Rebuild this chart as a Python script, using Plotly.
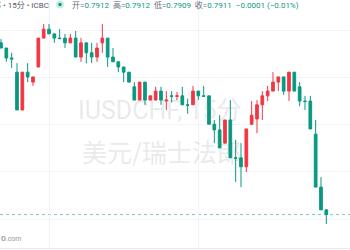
import plotly.graph_objects as go

# ---- data (USD/CHF, 15 min candles) ----
idx = list(range(62))
opens = [0.79473, 0.79462, 0.79441, 0.79411, 0.79331, 0.79411, 0.79390, 0.79422, 0.79483, 0.79502,
         0.79492, 0.79483, 0.79483, 0.79473, 0.79483, 0.79443, 0.79473, 0.79452, 0.79443, 0.79473,
         0.79483, 0.79443, 0.79433, 0.79422, 0.79411, 0.79380, 0.79352, 0.79390, 0.79352, 0.79352,
         0.79371, 0.79350, 0.79361, 0.79360, 0.79361, 0.79342, 0.79342, 0.79371, 0.79361, 0.79361,
         0.79301, 0.79289, 0.79261, 0.79310, 0.79230, 0.79230, 0.79211, 0.79301, 0.79312, 0.79342,
         0.79361, 0.79371, 0.79390, 0.79401, 0.79371, 0.79411, 0.79380, 0.79350, 0.79350, 0.79280,
         0.79168, 0.79120]
highs = [0.79481, 0.79462, 0.79452, 0.79430, 0.79411, 0.79430, 0.79401, 0.79483, 0.79513, 0.79513,
         0.79492, 0.79502, 0.79492, 0.79492, 0.79498, 0.79483, 0.79473, 0.79473, 0.79473, 0.79513,
         0.79483, 0.79462, 0.79433, 0.79422, 0.79411, 0.79390, 0.79390, 0.79390, 0.79361, 0.79380,
         0.79380, 0.79371, 0.79371, 0.79369, 0.79380, 0.79355, 0.79382, 0.79371, 0.79382, 0.79361,
         0.79310, 0.79320, 0.79310, 0.79352, 0.79268, 0.79261, 0.79291, 0.79350, 0.79352, 0.79371,
         0.79382, 0.79411, 0.79401, 0.79401, 0.79411, 0.79411, 0.79390, 0.79361, 0.79361, 0.79310,
         0.79189, 0.79120]
lows = [0.79462, 0.79433, 0.79420, 0.79331, 0.79331, 0.79390, 0.79382, 0.79422, 0.79483, 0.79492,
        0.79473, 0.79481, 0.79462, 0.79473, 0.79443, 0.79433, 0.79430, 0.79430, 0.79433, 0.79452,
        0.79422, 0.79433, 0.79411, 0.79390, 0.79390, 0.79352, 0.79352, 0.79342, 0.79352, 0.79352,
        0.79342, 0.79331, 0.79347, 0.79352, 0.79342, 0.79323, 0.79342, 0.79352, 0.79359, 0.79301,
        0.79261, 0.79251, 0.79261, 0.79230, 0.79179, 0.79168, 0.79200, 0.79299, 0.79282, 0.79310,
        0.79350, 0.79371, 0.79371, 0.79363, 0.79350, 0.79371, 0.79339, 0.79331, 0.79291, 0.79168,
        0.79120, 0.79090]
closes = [0.79462, 0.79441, 0.79439, 0.79331, 0.79411, 0.79401, 0.79401, 0.79483, 0.79502, 0.79492,
          0.79483, 0.79482, 0.79473, 0.79483, 0.79443, 0.79473, 0.79452, 0.79443, 0.79462, 0.79483,
          0.79443, 0.79433, 0.79422, 0.79411, 0.79390, 0.79352, 0.79390, 0.79352, 0.79361, 0.79371,
          0.79352, 0.79352, 0.79360, 0.79361, 0.79342, 0.79341, 0.79371, 0.79361, 0.79360, 0.79301,
          0.79289, 0.79251, 0.79310, 0.79230, 0.79229, 0.79211, 0.79291, 0.79320, 0.79342, 0.79361,
          0.79371, 0.79390, 0.79401, 0.79371, 0.79411, 0.79371, 0.79350, 0.79349, 0.79291, 0.79168,
          0.79120, 0.79110]
last_price = 0.7911
price_grid = [0.7910, 0.7920, 0.7930, 0.7940, 0.7950]
time_grid = [9, 37]

UP = "#f23645"
DOWN = "#089981"

W, H = 350, 250
PB = 248  # plot-area height in px


def px(x):
    return x / W


def py(y):
    return (PB - y) / PB


fig = go.Figure(go.Candlestick(
    x=idx, open=opens, high=highs, low=lows, close=closes,
    increasing=dict(line=dict(color=UP, width=1), fillcolor=UP),
    decreasing=dict(line=dict(color=DOWN, width=1), fillcolor=DOWN),
    whiskerwidth=0, hoverinfo="skip",
))

fig.update_layout(
    width=W, height=H,
    margin=dict(l=0, r=0, t=0, b=H - PB),
    paper_bgcolor="white", plot_bgcolor="white",
    showlegend=False, boxgap=0.28,
    xaxis=dict(range=[-0.1875, 65.44], tickvals=time_grid, showticklabels=False,
               gridcolor="#f0f3fa", zeroline=False, showline=True, linecolor="#e8eaf0",
               rangeslider=dict(visible=False), fixedrange=True),
    yaxis=dict(range=[0.790393, 0.795636], tickvals=price_grid, showticklabels=False,
               gridcolor="#f0f3fa", zeroline=False, fixedrange=True),
    font=dict(family="Roboto, Noto Sans CJK SC, sans-serif"),
)

# last price dotted line
fig.add_shape(type="line", xref="paper", x0=0, x1=1, yref="y", y0=last_price, y1=last_price,
              line=dict(color="rgba(8,153,129,0.55)", width=1, dash="dot"), layer="below")

# watermark
wm = "rgba(120,123,134,0.18)"
fig.add_annotation(text="IUSDCHF, 15分", xref="paper", yref="paper", x=px(160), y=py(110),
                   xanchor="center", yanchor="middle", showarrow=False,
                   font=dict(size=25, color=wm, family="Roboto, Noto Sans CJK SC"))
fig.add_annotation(text="美元/瑞士法郎", xref="paper", yref="paper", x=px(162), y=py(151),
                   xanchor="center", yanchor="middle", showarrow=False,
                   font=dict(size=25, color=wm, family="Noto Sans CJK SC"))

# header
fig.add_annotation(text="郎 • 15分 • ICBC", xref="paper", yref="paper", x=px(50.5), y=py(4.5),
                   xanchor="right", yanchor="middle", showarrow=False,
                   font=dict(size=8, color="#555a66"))
fig.add_shape(type="circle", xref="paper", yref="paper",
              x0=px(56), x1=px(64), y0=py(8.5), y1=py(0.5),
              line=dict(width=0), fillcolor="rgba(8,153,129,0.2)")
fig.add_shape(type="circle", xref="paper", yref="paper",
              x0=px(58.3), x1=px(61.7), y0=py(6.2), y1=py(2.8),
              line=dict(width=0), fillcolor=DOWN)
g = "<span style='color:#089981'>%s</span>"
hdr = ("开=" + g % "0.7912" + "  高=" + g % "0.7912" + "  低=" + g % "0.7909" +
       "  收=" + g % "0.7911" + "  " + g % "−0.0001 (−0.01%)")
fig.add_annotation(text=hdr, xref="paper", yref="paper", x=px(70), y=py(4.5),
                   xanchor="left", yanchor="middle", showarrow=False,
                   font=dict(size=8, color="#6a6d78"))

# logo fragment
fig.add_annotation(text="<b>O</b>.com", xref="paper", yref="paper", x=px(-1), y=py(238.5),
                   xanchor="left", yanchor="middle", showarrow=False,
                   font=dict(size=7, color="#9598a1"))

fig.write_html("out.html")
